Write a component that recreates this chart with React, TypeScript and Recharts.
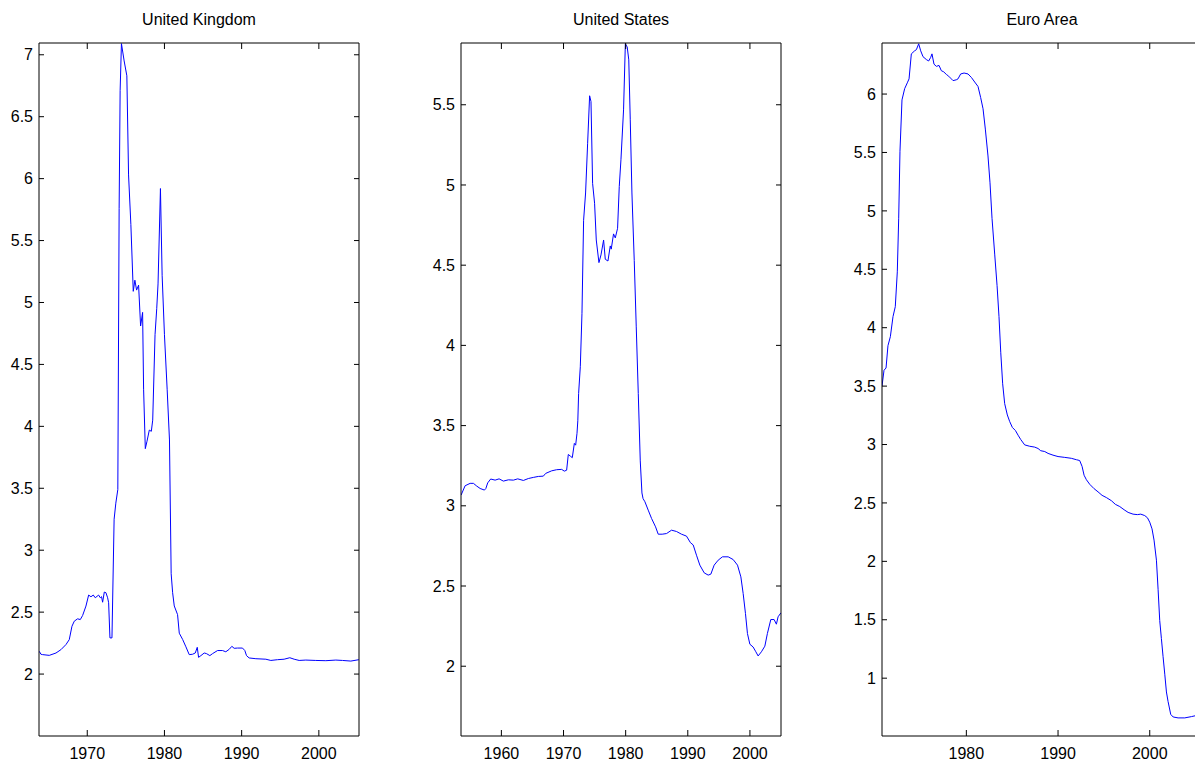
import { LineChart, Line, XAxis, YAxis } from 'recharts'

// United Kingdom
const ukYears = [
  1963.78, 1964.0, 1964.22, 1965.08, 1965.95, 1966.59, 1967.24, 1967.67, 1968.02, 1968.32,
  1968.75, 1969.1, 1969.4, 1969.83, 1970.18, 1970.48, 1970.78, 1971.04, 1971.47, 1971.69,
  1971.85, 1971.99, 1972.21, 1972.42, 1972.64, 1972.77, 1972.94, 1973.2, 1973.48, 1973.7,
  1973.96, 1974.13, 1974.26, 1974.43, 1974.78, 1975.13, 1975.35, 1975.65, 1975.96, 1976.17,
  1976.39, 1976.65, 1976.91, 1977.17, 1977.3, 1977.52, 1977.74, 1978.04, 1978.3, 1978.48,
  1978.78, 1979.0, 1979.17, 1979.48, 1979.7, 1980.0, 1980.35, 1980.65, 1980.87, 1981.06,
  1981.27, 1981.7, 1981.92, 1982.35, 1982.78, 1983.21, 1983.64, 1983.99, 1984.25, 1984.42,
  1984.72, 1985.15, 1985.45, 1985.88, 1986.23, 1986.88, 1987.52, 1987.95, 1988.39, 1988.73,
  1989.03, 1989.46, 1990.11, 1990.41, 1990.63, 1990.97, 1991.84, 1993.13, 1993.78, 1994.64,
  1995.5, 1996.24, 1996.8, 1997.45, 1998.31, 1999.6, 2000.9, 2002.2, 2003.06, 2004.14, 2005.18,
]
const ukValues = [
  2.184, 2.16, 2.157, 2.151, 2.17, 2.197, 2.238, 2.278, 2.386, 2.427,
  2.446, 2.44, 2.473, 2.549, 2.638, 2.624, 2.638, 2.616, 2.638, 2.616,
  2.625, 2.58, 2.662, 2.657, 2.616, 2.576, 2.292, 2.292, 3.25, 3.38,
  3.49, 5.76, 6.71, 7.09, 6.95, 6.83, 6.03, 5.63, 5.09, 5.18,
  5.1, 5.14, 4.81, 4.92, 4.3, 3.82, 3.88, 3.97, 3.96, 4.05,
  4.74, 4.95, 5.15, 5.92, 5.22, 4.74, 4.3, 3.89, 2.81, 2.657,
  2.55, 2.48, 2.33, 2.28, 2.22, 2.157, 2.16, 2.17, 2.216, 2.135,
  2.149, 2.17, 2.165, 2.149, 2.165, 2.19, 2.19, 2.18, 2.2, 2.224,
  2.208, 2.21, 2.21, 2.19, 2.149, 2.13, 2.124, 2.12, 2.11, 2.116,
  2.12, 2.132, 2.12, 2.11, 2.113, 2.11, 2.108, 2.113, 2.11, 2.105, 2.116,
]

// United States
const usYears = [
  1953.52, 1954.16, 1954.97, 1955.5, 1956.03, 1956.58, 1957.27, 1957.5, 1957.8, 1958.28,
  1958.99, 1959.63, 1960.32, 1961.13, 1961.93, 1962.63, 1963.54, 1964.34, 1965.14, 1965.95,
  1966.75, 1967.13, 1968.09, 1968.89, 1969.7, 1970.13, 1970.5, 1970.77, 1971.09, 1971.41,
  1971.74, 1971.95, 1972.17, 1972.3, 1972.43, 1972.7, 1972.97, 1973.23, 1973.55, 1973.88,
  1974.2, 1974.42, 1974.68, 1975.0, 1975.27, 1975.7, 1976.03, 1976.45, 1976.72, 1977.15,
  1977.52, 1977.68, 1978.05, 1978.33, 1978.7, 1978.97, 1979.24, 1979.66, 1979.95, 1980.25,
  1980.5, 1980.74, 1981.01, 1981.38, 1981.7, 1982.03, 1982.35, 1982.62, 1982.8, 1983.1,
  1983.63, 1984.17, 1984.81, 1985.24, 1985.88, 1986.58, 1987.38, 1988.18, 1988.99, 1989.79,
  1990.43, 1990.87, 1991.4, 1991.94, 1992.64, 1993.28, 1993.71, 1994.24, 1994.89, 1995.58,
  1996.5, 1997.3, 1998.0, 1998.54, 1998.91, 1999.28, 1999.6, 1999.99, 2000.51, 2000.95,
  2001.32, 2001.85, 2002.4, 2002.81, 2003.36, 2003.89, 2004.26, 2004.53, 2004.99,
]
const usValues = [
  3.067, 3.125, 3.14, 3.14, 3.123, 3.108, 3.098, 3.108, 3.143, 3.167,
  3.16, 3.168, 3.154, 3.162, 3.16, 3.168, 3.158, 3.17, 3.177, 3.183,
  3.185, 3.202, 3.218, 3.225, 3.227, 3.216, 3.222, 3.32, 3.31, 3.3,
  3.389, 3.378, 3.452, 3.53, 3.7, 3.867, 4.2, 4.78, 4.95, 5.26,
  5.556, 5.52, 5.01, 4.886, 4.657, 4.516, 4.564, 4.657, 4.537, 4.526,
  4.62, 4.6, 4.695, 4.67, 4.73, 4.99, 5.157, 5.468, 5.88, 5.86,
  5.78, 5.406, 4.95, 4.53, 4.12, 3.7, 3.28, 3.08, 3.045, 3.025,
  2.973, 2.921, 2.869, 2.823, 2.823, 2.827, 2.848, 2.84, 2.823, 2.811,
  2.77, 2.756, 2.692, 2.63, 2.582, 2.568, 2.574, 2.63, 2.661, 2.682,
  2.682, 2.665, 2.63, 2.557, 2.453, 2.329, 2.204, 2.137, 2.12, 2.09,
  2.064, 2.09, 2.125, 2.204, 2.291, 2.291, 2.262, 2.308, 2.333,
]

// Euro Area
const euYears = [
  1970.8, 1971.02, 1971.24, 1971.45, 1971.71, 1972.0, 1972.25, 1972.47, 1972.62, 1972.76,
  1972.98, 1973.27, 1973.56, 1973.75, 1974.0, 1974.36, 1974.55, 1974.8, 1975.02, 1975.27,
  1975.64, 1975.89, 1976.11, 1976.25, 1976.47, 1976.73, 1977.02, 1977.27, 1977.53, 1977.82,
  1978.07, 1978.36, 1978.55, 1978.9, 1979.09, 1979.38, 1979.75, 1980.18, 1980.55, 1980.91,
  1981.27, 1981.56, 1981.82, 1982.07, 1982.36, 1982.58, 1982.8, 1983.09, 1983.35, 1983.56,
  1983.75, 1983.96, 1984.18, 1984.47, 1984.73, 1985.02, 1985.35, 1985.64, 1985.93, 1986.36,
  1986.91, 1987.45, 1987.82, 1988.11, 1988.55, 1988.91, 1989.45, 1990.0, 1990.73, 1991.45,
  1992.0, 1992.36, 1992.62, 1992.84, 1993.09, 1993.45, 1993.93, 1994.36, 1994.8, 1995.27,
  1995.82, 1996.25, 1996.73, 1997.2, 1997.64, 1998.18, 1998.65, 1999.02, 1999.45, 1999.75,
  2000.0, 2000.25, 2000.47, 2000.73, 2000.91, 2001.09, 2001.27, 2001.45, 2001.64, 2001.82,
  2002.0, 2002.29, 2002.55, 2003.09, 2003.82, 2004.55, 2005.0,
]
const euValues = [
  3.5, 3.636, 3.655, 3.846, 3.923, 4.095, 4.18, 4.478, 4.937, 5.51,
  5.95, 6.046, 6.096, 6.13, 6.344, 6.37, 6.38, 6.43, 6.37, 6.32,
  6.295, 6.283, 6.314, 6.344, 6.256, 6.237, 6.245, 6.2, 6.19, 6.168,
  6.153, 6.13, 6.115, 6.122, 6.13, 6.172, 6.18, 6.172, 6.142, 6.103,
  6.065, 5.97, 5.874, 5.7, 5.47, 5.24, 4.936, 4.63, 4.36, 4.095,
  3.79, 3.52, 3.35, 3.253, 3.196, 3.146, 3.12, 3.08, 3.043, 2.997,
  2.985, 2.978, 2.966, 2.947, 2.94, 2.924, 2.909, 2.897, 2.89, 2.882,
  2.87, 2.863, 2.813, 2.737, 2.699, 2.66, 2.622, 2.595, 2.565, 2.546,
  2.519, 2.488, 2.469, 2.442, 2.419, 2.404, 2.4, 2.404, 2.392, 2.373,
  2.335, 2.278, 2.182, 2.01, 1.761, 1.493, 1.34, 1.187, 1.034, 0.882,
  0.8, 0.69, 0.668, 0.66, 0.66, 0.671, 0.679,
]

const ukXTicks = [1970, 1980, 1990, 2000]
const usXTicks = [1960, 1970, 1980, 1990, 2000]
const euXTicks = [1980, 1990, 2000]
const ukYTicks = [2, 2.5, 3, 3.5, 4, 4.5, 5, 5.5, 6, 6.5, 7]
const usYTicks = [2, 2.5, 3, 3.5, 4, 4.5, 5, 5.5]
const euYTicks = [1, 1.5, 2, 2.5, 3, 3.5, 4, 4.5, 5, 5.5, 6]

const AXIS_W = 39
const PLOT_W = 320
const FONT = "'Liberation Sans', Arial, Helvetica, sans-serif"

// opposite-side axes only show tick marks, no labels
const NoLabel = () => <g />

type PanelProps = {
  title: string
  years: number[]
  values: number[]
  xDomain: [number, number]
  yDomain: [number, number]
  xTicks: number[]
  yTicks: number[]
  left: number
}

function Panel({ title, years, values, xDomain, yDomain, xTicks, yTicks, left }: PanelProps) {
  const data = years.map((t, i) => ({ t, v: values[i] }))
  const tickLine = { stroke: '#000', strokeWidth: 1 }
  return (
    <div style={{ position: 'absolute', left: left - AXIS_W, top: 0, width: AXIS_W + PLOT_W + 5, height: 762 }}>
      <div
        style={{
          position: 'absolute',
          left: AXIS_W,
          width: PLOT_W,
          top: 12,
          textAlign: 'center',
          fontSize: 16,
          lineHeight: '16px',
          color: '#000',
        }}
      >
        {title}
      </div>
      <LineChart width={AXIS_W + PLOT_W + 5} height={762} data={data} margin={{ top: 43, right: 5, bottom: 0, left: 0 }}>
        <XAxis
          xAxisId="b"
          dataKey="t"
          type="number"
          domain={xDomain}
          ticks={xTicks}
          interval={0}
          allowDataOverflow
          height={26}
          tickSize={-6}
          tickMargin={18}
          stroke="#000"
          tickLine={tickLine}
          tick={{ fill: '#000', fontSize: 16 }}
        />
        <XAxis
          xAxisId="t"
          dataKey="t"
          type="number"
          orientation="top"
          mirror
          domain={xDomain}
          ticks={xTicks}
          interval={0}
          allowDataOverflow
          tickSize={6}
          stroke="#000"
          tickLine={tickLine}
          tick={NoLabel}
        />
        <YAxis
          yAxisId="l"
          type="number"
          domain={yDomain}
          ticks={yTicks}
          interval={0}
          allowDataOverflow
          width={AXIS_W}
          tickSize={-5}
          tickMargin={11}
          stroke="#000"
          tickLine={tickLine}
          tick={{ fill: '#000', fontSize: 16 }}
        />
        <YAxis
          yAxisId="r"
          type="number"
          orientation="right"
          mirror
          domain={yDomain}
          ticks={yTicks}
          interval={0}
          allowDataOverflow
          tickSize={5}
          stroke="#000"
          tickLine={tickLine}
          tick={NoLabel}
        />
        <Line
          xAxisId="b"
          yAxisId="l"
          type="linear"
          dataKey="v"
          stroke="#0000ff"
          strokeWidth={1}
          dot={false}
          activeDot={false}
          isAnimationActive={false}
        />
      </LineChart>
    </div>
  )
}

export default function App() {
  return (
    <div
      style={{
        position: 'fixed',
        left: 0,
        top: 0,
        width: 1195,
        height: 762,
        overflow: 'hidden',
        background: '#fff',
        fontFamily: FONT,
      }}
    >
      <Panel
        title="United Kingdom"
        years={ukYears}
        values={ukValues}
        xDomain={[1963.75, 2005.2]}
        yDomain={[1.5, 7.095]}
        xTicks={ukXTicks}
        yTicks={ukYTicks}
        left={39}
      />
      <Panel
        title="United States"
        years={usYears}
        values={usValues}
        xDomain={[1953.5, 2005.0]}
        yDomain={[1.565, 5.885]}
        xTicks={usXTicks}
        yTicks={usYTicks}
        left={461}
      />
      <Panel
        title="Euro Area"
        years={euYears}
        values={euValues}
        xDomain={[1970.8, 2005.7]}
        yDomain={[0.505, 6.437]}
        xTicks={euXTicks}
        yTicks={euYTicks}
        left={882}
      />
    </div>
  )
}
